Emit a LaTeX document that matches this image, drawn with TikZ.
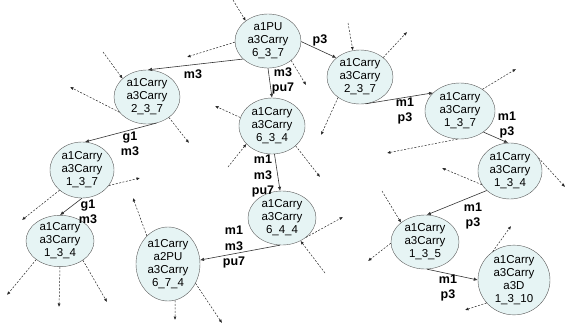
\documentclass[tikz,border=0pt]{standalone}
\usepackage{fontspec}
\setmainfont{Liberation Sans}
\usetikzlibrary{shapes.geometric,arrows.meta}
\definecolor{statefill}{RGB}{230,244,244}
\tikzset{
    st/.style={ellipse,draw=black!65,fill=statefill,inner sep=0pt,
        minimum width=66pt,minimum height=54pt,align=center,
        font=\fontsize{11.5}{13}\selectfont},
    lbl/.style={align=center,font=\fontsize{12.5}{15.5}\selectfont\bfseries},
    move/.style={draw=black!80,line width=0.6pt,-{Latex[length=4pt,width=3.5pt]}},
    stub/.style={draw=black!85,line width=0.5pt,dash pattern=on 2pt off 1.5pt,
        -{Latex[length=3.5pt,width=3pt]}}
}
\begin{document}
\begin{tikzpicture}[x=1pt,y=-1pt]
    \useasboundingbox (0,0) rectangle (566,333);
    %% states
    \node[st] (s637) at (268,41) {a1PU\\a3Carry\\6\_3\_7};
    \node[st] (s237l) at (147,97) {a1Carry\\a3Carry\\2\_3\_7};
    \node[st] (s237r) at (360,77) {a1Carry\\a3Carry\\2\_3\_7};
    \node[st,minimum height=56pt] (s634) at (272,126) {a1Carry\\a3Carry\\6\_3\_4};
    \node[st,minimum width=70pt,minimum height=56pt] (s137r) at (460,111) {a1Carry\\a3Carry\\1\_3\_7};
    \node[st,minimum width=64pt,minimum height=56pt] (s137l) at (82,170) {a1Carry\\a3Carry\\1\_3\_7};
    \node[st,minimum width=64pt,minimum height=56pt] (s134r) at (510,171) {a1Carry\\a3Carry\\1\_3\_4};
    \node[st,minimum width=68pt] (s644) at (282,218) {a1Carry\\a3Carry\\6\_4\_4};
    \node[st,minimum width=64pt,minimum height=74pt] (s674) at (168,264) {a1Carry\\a2PU\\a3Carry\\6\_7\_4};
    \node[st,minimum width=68pt,minimum height=50pt] (s134l) at (60,241) {a1Carry\\a3Carry\\1\_3\_4};
    \node[st,minimum width=68pt] (s135) at (425,242) {a1Carry\\a3Carry\\1\_3\_5};
    \node[st,minimum width=72pt,minimum height=62pt] (s1310) at (514,280) {a1Carry\\a3Carry\\a3D\\1\_3\_10};
    %% moves
    \draw[move] (s637.216) -- (s237l.88);
    \draw[move] (s637.270) -- (s634.90);
    \draw[move] (s637.-1) -- (s237r.141);
    \draw[move] (s237l.290) -- (s137l.84);
    \draw[move] (s137l.270) -- (s134l.90);
    \draw[move] (s634.275) -- (s644.94);
    \draw[move] (s644.266) -- (s674.7);
    \draw[move] (s237r.282) -- (s137r.146);
    \draw[move] (s137r.318) -- (s134r.94);
    \draw[move] (s134r.220) -- (s135.86);
    \draw[move] (s135.274) -- (s1310.180);
    %% labels
    \node[lbl] (l1) at (193,74) {m3};
    \node[lbl] (l2) at (283,81) {m3\\pu7};
    \node[lbl] (l3) at (320,40) {p3};
    \node[lbl] (l4) at (130,144) {g1\\m3};
    \node[lbl] (l5) at (88,212) {g1\\m3};
    \node[lbl] (l6) at (263,176) {m1\\m3\\pu7};
    \node[lbl] (l7) at (234,247) {m1\\m3\\pu7};
    \node[lbl] (l8) at (405,111) {m1\\p3};
    \node[lbl] (l9) at (507,125) {m1\\p3};
    \node[lbl] (l10) at (473,216) {m1\\p3};
    \node[lbl] (l11) at (448,288) {m1\\p3};
    %% incoming stubs
    \foreach \n/\a/\x/\y [count=\i] in {s637/138/233/0, s237l/143/103/52,
            s237r/105/348/23, s634/215/228/167, s644/309/325/273, s135/141/382/191} {
        \coordinate (in\i) at (\x,\y);
        \draw[stub] (in\i) -- (\n.\a);
    }
    %% outgoing stubs
    \foreach \n/\a/\x/\y [count=\i] in {s637/182/187/57, s637/320/306/85,
            s237l/209/70/87, s237l/317/189/143, s237r/40/407/32, s237r/223/321/135,
            s634/165/215/106, s634/320/320/177, s137r/44/516/69, s137r/265/387/153,
            s137l/222/22/220, s137l/330/140/178, s134r/206/442/168, s134r/25/565/187,
            s644/321/343/217, s674/127/133/198, s674/281/175/320, s674/325/222/323,
            s134l/218/7/295, s134l/270/59/307, s134l/320/107/302, s135/182/368/261,
            s1310/127/511/226, s1310/220/465/310} {
        \coordinate (out\i) at (\x,\y);
        \draw[stub] (\n.\a) -- (out\i);
    }
\end{tikzpicture}
\end{document}
